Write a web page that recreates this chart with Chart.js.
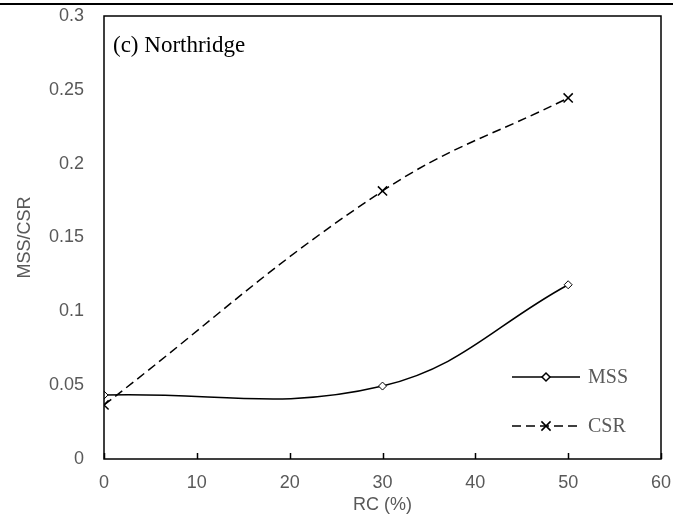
<!DOCTYPE html>
<html>
<head>
<meta charset="utf-8">
<script src="https://cdn.jsdelivr.net/npm/chart.js@4.4.1/dist/chart.umd.min.js"></script>
<style>
  html, body { margin: 0; padding: 0; background: #fff; }
  #wrap { width: 673px; height: 516px; position: relative; }
</style>
</head>
<body>
<div id="wrap"><canvas id="chart" width="673" height="516"></canvas></div>
<script>
"use strict";

// Data
var rcValues = [0, 30, 50];
var mssValues = [0.0433, 0.0494, 0.118];
var csrValues = [0.0366, 0.1815, 0.2445];
var xTicks = [0, 10, 20, 30, 40, 50, 60];
var yTicks = [0, 0.05, 0.1, 0.15, 0.2, 0.25, 0.3];
var seriesNames = ['MSS', 'CSR'];
var panelLabel = '(c) Northridge';

var tickFont = { family: 'Liberation Sans, Arial, sans-serif', size: 18 };
var grey = '#595959';

function toPoints(xs, ys) {
    return xs.map(function (x, i) { return { x: x, y: ys[i] }; });
}

// Frame, inside tick marks, panel label and legend
var decorations = {
    id: 'decorations',
    beforeDraw: function (chart) {
        var ctx = chart.ctx;
        ctx.save();
        ctx.fillStyle = '#fff';
        ctx.fillRect(0, 0, chart.width, chart.height);
        // top rule of the page
        ctx.strokeStyle = '#000';
        ctx.lineWidth = 2;
        ctx.beginPath();
        ctx.moveTo(0, 4);
        ctx.lineTo(chart.width, 4);
        ctx.stroke();
        ctx.restore();
    },
    afterDraw: function (chart) {
        var ctx = chart.ctx;
        var a = chart.chartArea;
        var xs = chart.scales.x;
        ctx.save();
        ctx.strokeStyle = '#000';
        ctx.lineWidth = 1.5;
        ctx.strokeRect(a.left, a.top, a.right - a.left, a.bottom - a.top);

        // x ticks pointing inwards
        ctx.beginPath();
        xTicks.forEach(function (v) {
            var px = Math.round(xs.getPixelForValue(v)) + 0.5;
            ctx.moveTo(px, a.bottom);
            ctx.lineTo(px, a.bottom - 6);
        });
        ctx.stroke();

        // panel label
        ctx.fillStyle = '#000';
        ctx.font = '23px "Liberation Serif", "Times New Roman", serif';
        ctx.textBaseline = 'middle';
        ctx.textAlign = 'left';
        ctx.fillText(panelLabel, a.left + 9, a.top + 30);

        // legend
        var items = chart.data.datasets;
        var lx0 = a.right - 149, lx1 = a.right - 81;
        var rows = [a.bottom - 82, a.bottom - 33];
        items.forEach(function (ds, i) {
            var y = rows[i];
            ctx.save();
            ctx.strokeStyle = '#000';
            ctx.lineWidth = 1.5;
            ctx.setLineDash(ds.borderDash || []);
            ctx.beginPath();
            ctx.moveTo(lx0, y);
            ctx.lineTo(lx1, y);
            ctx.stroke();
            ctx.restore();
            ctx.save();
            ctx.fillStyle = '#fff';
            ctx.strokeStyle = '#000';
            Chart.helpers.drawPoint(ctx, {
                pointStyle: ds.pointStyle,
                radius: ds.pointRadius,
                borderWidth: ds.pointBorderWidth
            }, (lx0 + lx1) / 2, y);
            ctx.restore();
            ctx.fillStyle = grey;
            ctx.font = '20px "Liberation Serif", "Times New Roman", serif';
            ctx.textBaseline = 'middle';
            ctx.fillText(ds.label, lx1 + 8, y + 1);
        });
        ctx.restore();
    }
};

var ctx = document.getElementById('chart').getContext('2d');
var chart = new Chart(ctx, {
    type: 'line',
    data: {
        datasets: [{
            label: seriesNames[0],
            data: toPoints(rcValues, mssValues),
            borderColor: '#000',
            borderWidth: 1.5,
            tension: 0.4,
            pointStyle: 'rectRot',
            pointRadius: 4,
            pointBackgroundColor: '#fff',
            pointBorderColor: '#000',
            pointBorderWidth: 1,
            fill: false
        }, {
            label: seriesNames[1],
            data: toPoints(rcValues, csrValues),
            borderColor: '#000',
            borderWidth: 1.5,
            borderDash: [9, 5],
            tension: 0.4,
            pointStyle: 'crossRot',
            pointRadius: 6.5,
            pointBorderColor: '#000',
            pointBorderWidth: 1.5,
            fill: false
        }]
    },
    options: {
        responsive: false,
        animation: false,
        devicePixelRatio: 1,
        layout: { padding: { left: 0, right: 12, top: 16, bottom: 0 } },
        plugins: {
            legend: { display: false },
            tooltip: { enabled: false }
        },
        scales: {
            x: {
                type: 'linear',
                min: 0,
                max: 60,
                afterBuildTicks: function (scale) {
                    scale.ticks = xTicks.map(function (v) { return { value: v }; });
                },
                afterFit: function (scale) {
                    scale.height = 57;
                    scale.paddingLeft = 0;
                    scale.paddingRight = 0;
                },
                grid: { display: false, drawTicks: false },
                border: { display: false },
                ticks: { color: grey, font: tickFont, padding: 13, maxRotation: 0 },
                title: {
                    display: true,
                    text: 'RC (%)',
                    color: grey,
                    font: tickFont,
                    padding: { top: 0, bottom: 0 }
                }
            },
            y: {
                type: 'linear',
                min: 0,
                max: 0.3,
                afterBuildTicks: function (scale) {
                    scale.ticks = yTicks.map(function (v) { return { value: v }; });
                },
                afterFit: function (scale) {
                    scale.width = 104;
                    scale.paddingTop = 0;
                    scale.paddingBottom = 0;
                },
                grid: { display: false, drawTicks: false },
                border: { display: false },
                ticks: {
                    color: grey,
                    font: tickFont,
                    padding: 20,
                    callback: function (v) { return String(parseFloat(v.toFixed(2))); }
                },
                title: {
                    display: true,
                    text: 'MSS/CSR',
                    color: grey,
                    font: tickFont,
                    padding: { top: 14, bottom: 4 }
                }
            }
        }
    },
    plugins: [decorations]
});
</script>
</body>
</html>
